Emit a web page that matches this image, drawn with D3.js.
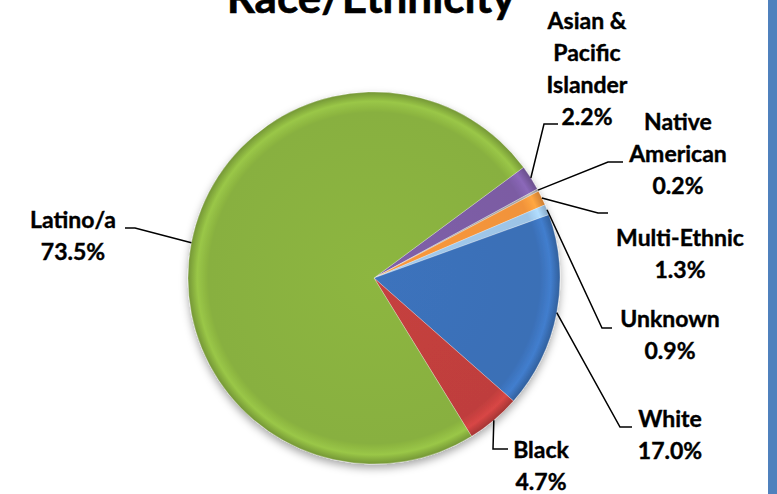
<!DOCTYPE html>
<html>
<head>
<meta charset="utf-8">
<script src="https://cdn.jsdelivr.net/npm/d3@7"></script>
<style>
  html, body { margin: 0; padding: 0; background: #fff; }
  svg { display: block; }
  text { font-family: Lato, "Liberation Sans", sans-serif; font-weight: bold; fill: #000; }
</style>
</head>
<body>
<div id="chart"></div>
<script>
// data
const categories = ["Asian & Pacific Islander", "Native American", "Multi-Ethnic", "Unknown", "White", "Black", "Latino/a"];
const values = [2.2, 0.2, 1.3, 0.9, 17.0, 4.7, 73.5];
const nameLines = [["Asian &", "Pacific", "Islander"], ["Native", "American"], ["Multi-Ethnic"], ["Unknown"], ["White"], ["Black"], ["Latino/a"]];
const colors = ["#7b5ca3", "#a5a5a5", "#f1933a", "#9dc4e6", "#3a6fb6", "#bf3e3d", "#88b03f"];

// label layout: text centre x, first baseline y, leader elbow and end
const layout = [
  {x: 587, y: 29,  elbow: [544, 124], end: [558, 124]},
  {x: 678, y: 130, elbow: [608, 162], end: [623, 162]},
  {x: 680, y: 246, elbow: [598, 213], end: [608, 213]},
  {x: 670, y: 327, elbow: [602, 328], end: [612, 328]},
  {x: 670, y: 427, elbow: [620, 427], end: [632, 427]},
  {x: 541, y: 458, elbow: [493, 449], end: [508, 449]},
  {x: 73,  y: 228, elbow: [135, 228], end: [125, 228]}
];

const width = 777, height = 494;
const cx = 374, cy = 278, radius = 186;
const lineH = 32;

const svg = d3.select("#chart").append("svg")
  .attr("width", width)
  .attr("height", height);

// right edge blue bar
svg.append("rect")
  .attr("x", 768).attr("y", 0)
  .attr("width", width - 768).attr("height", height)
  .attr("fill", "#4f81bd");

const defs = svg.append("defs");
const shadow = defs.append("filter").attr("id", "shadow")
  .attr("x", "-20%").attr("y", "-20%").attr("width", "140%").attr("height", "140%");
shadow.append("feDropShadow")
  .attr("dx", 0).attr("dy", 4).attr("stdDeviation", 4)
  .attr("flood-color", "#000").attr("flood-opacity", 0.35);

colors.forEach((c, i) => {
  const g = defs.append("radialGradient")
    .attr("id", "grad" + i)
    .attr("gradientUnits", "userSpaceOnUse")
    .attr("cx", 0).attr("cy", 0).attr("r", radius);
  const base = d3.color(c);
  g.append("stop").attr("offset", "0%").attr("stop-color", base.brighter(0.1));
  g.append("stop").attr("offset", "89%").attr("stop-color", base);
  g.append("stop").attr("offset", "95%").attr("stop-color", base.brighter(0.35));
  g.append("stop").attr("offset", "100%").attr("stop-color", base.darker(0.45));
});

const pie = d3.pie()
  .sort(null)
  .value(d => d)
  .startAngle(53.5 * Math.PI / 180)
  .endAngle(53.5 * Math.PI / 180 + 2 * Math.PI);

const arcs = pie(values);
const arc = d3.arc().innerRadius(0).outerRadius(radius);

const g = svg.append("g")
  .attr("transform", "translate(" + cx + "," + cy + ")");

g.append("g")
  .attr("filter", "url(#shadow)")
  .selectAll("path")
  .data(arcs)
  .enter()
  .append("path")
    .attr("d", arc)
    .attr("fill", (d, i) => "url(#grad" + i + ")")
    .attr("stroke", "rgba(255,255,255,0.35)")
    .attr("stroke-width", 0.8);

// leader lines + labels
const pct = d3.format(".1f");
const line = d3.line();

arcs.forEach((d, i) => {
  const a = (d.startAngle + d.endAngle) / 2;
  const p = [cx + radius * Math.sin(a), cy - radius * Math.cos(a)];
  const L = layout[i];
  svg.append("path")
    .attr("d", line([p, L.elbow, L.end]))
    .attr("fill", "none")
    .attr("stroke", "#000")
    .attr("stroke-width", 1.5);

  const lines = nameLines[i].concat([pct(values[i]) + "%"]);
  const t = svg.append("text")
    .attr("text-anchor", "middle")
    .attr("font-size", 23)
    .attr("stroke", "#000")
    .attr("stroke-width", 0.4);
  lines.forEach((s, k) => {
    t.append("tspan")
      .attr("x", L.x)
      .attr("y", L.y + k * lineH)
      .text(s);
  });
});

// title, clipped at the top like the original
svg.append("text")
  .attr("x", 371)
  .attr("y", 13)
  .attr("text-anchor", "middle")
  .attr("font-size", 44)
  .attr("stroke", "#000")
  .attr("stroke-width", 0.6)
  .text("Race/Ethnicity");
</script>
</body>
</html>
